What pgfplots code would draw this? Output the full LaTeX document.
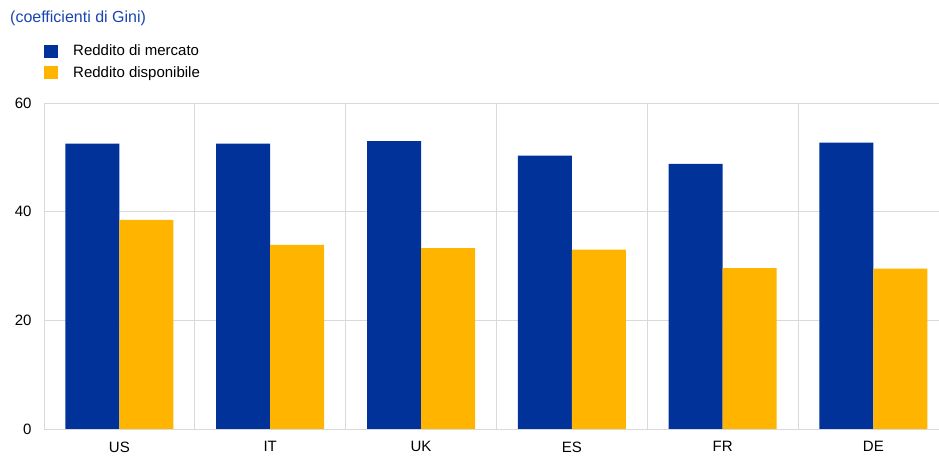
\documentclass[border=0pt]{standalone}
\usepackage{pgfplots}
\pgfplotsset{compat=1.18}
\usepackage{fontspec}
\setmainfont{Liberation Sans}
\definecolor{ecbblue}{HTML}{003299}
\definecolor{ecbyellow}{HTML}{FFB400}
\definecolor{titleblue}{HTML}{1A44B0}
\definecolor{gridgrey}{HTML}{D9D9D9}
\begin{document}
\begin{tikzpicture}
\path[use as bounding box] (0pt,0pt) rectangle (939pt,470pt);
\node[anchor=west, text=titleblue, font=\fontsize{16}{18}\selectfont, inner sep=0pt] at (10pt,452pt) {(coefficienti di Gini)};
\begin{axis}[
    at={(44pt,41pt)}, anchor=south west,
    scale only axis,
    width=895pt, height=326pt,
    ybar=0pt, bar width=54pt,
    xmin=-0.5, xmax=5.435,
    ymin=0, ymax=60,
    enlarge x limits=false,
    xtick={0,...,5},
    xticklabels={US,IT,UK,ES,FR,DE},
    ytick={0,20,40,60},
    minor xtick={-0.5,0.5,1.5,2.5,3.5,4.5},
    minor x grid style={gridgrey, line width=0.8pt},
    xminorgrids, ymajorgrids,
    major grid style={gridgrey, line width=0.8pt},
    axis line style={draw=none},
    major tick length=0pt, minor tick length=0pt,
    tick style={draw=none},
    tick label style={font=\fontsize{15}{17}\selectfont},
    /pgf/number format/assume math mode=true,
    xticklabel style={yshift=-9pt},
    yticklabel style={xshift=-9pt},
    legend style={at={(rel axis cs:0,1)}, anchor=south west, xshift=0pt, yshift=22pt,
        draw=none, fill=none, font=\fontsize{15}{17}\selectfont,
        row sep=5pt, inner sep=0pt},
    legend cell align=left,
    legend image code/.code={\fill[#1] (2pt,-6.5pt) rectangle (16pt,6.5pt);},
]
\addplot[fill=ecbblue, draw=none] coordinates {(0,52.5) (1,52.5) (2,53.0) (3,50.3) (4,48.8) (5,52.7)};
\addlegendentry{\hspace{13pt}Reddito di mercato}
\addplot[fill=ecbyellow, draw=none] coordinates {(0,38.5) (1,33.9) (2,33.3) (3,33.0) (4,29.6) (5,29.5)};
\addlegendentry{\hspace{13pt}Reddito disponibile}
\end{axis}
\end{tikzpicture}
\end{document}
